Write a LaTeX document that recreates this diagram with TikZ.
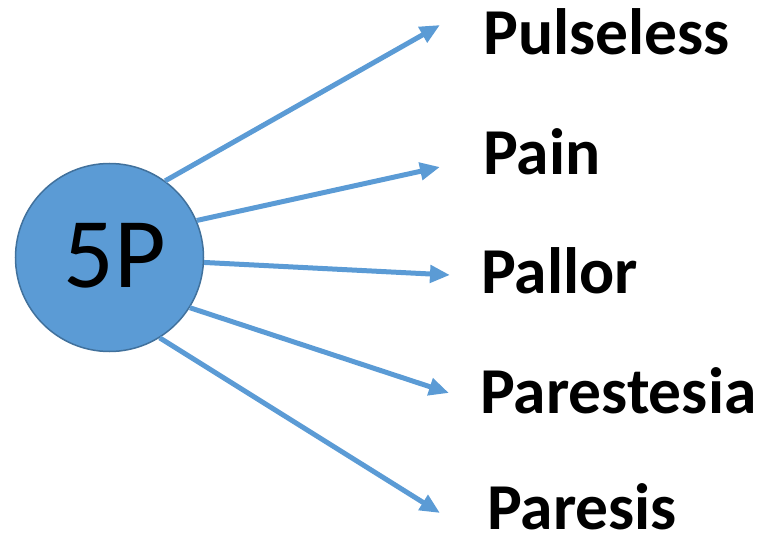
\documentclass[tikz,border=0pt]{standalone}
\usepackage{fontspec}
\setmainfont{Carlito}
\usetikzlibrary{arrows.meta}
\definecolor{pblue}{HTML}{5B9BD5}
\definecolor{pborder}{HTML}{41719C}
\begin{document}
\begin{tikzpicture}[x=1pt,y=-1pt,
  conn/.style={draw=pblue,line width=5pt,-{Triangle[length=20pt,width=17pt]}},
  lbl/.style={anchor=base west,inner sep=0pt,font=\fontsize{65.5}{70}\selectfont\bfseries}]
\useasboundingbox (0,0) rectangle (764,535);
\node[circle,fill=pblue,draw=pborder,line width=1.5pt,minimum size=188pt,inner sep=0pt] (c) at (109.5,257.5) {};
\node[anchor=base,inner sep=0pt,font=\fontsize{100}{110}\selectfont] (t) at (115,287) {5P};
\node[lbl] (l1) at (483,55) {Pulseless};
\node[lbl] (l2) at (483,175) {Pain};
\node[lbl] (l3) at (481,293) {Pallor};
\node[lbl] (l4) at (480,413) {Parestesia};
\node[lbl] (l5) at (487,529) {Paresis};
\coordinate (e1) at (440,25);
\coordinate (e2) at (440,167);
\coordinate (e3) at (450,275);
\coordinate (e4) at (449,393);
\coordinate (e5) at (440,513);
\draw[conn] (c.54) -- (e1);
\draw[conn] (c.23) -- (e2);
\draw[conn] (c.-3) -- (e3);
\draw[conn] (c.-32) -- (e4);
\draw[conn] (c.-58) -- (e5);
\end{tikzpicture}
\end{document}
